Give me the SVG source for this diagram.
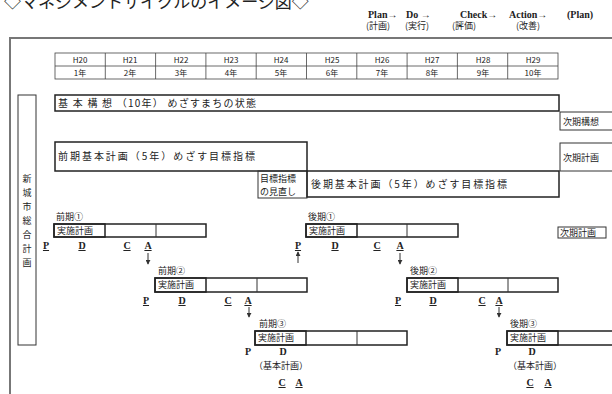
<svg xmlns="http://www.w3.org/2000/svg" width="612" height="394" viewBox="0 0 612 394">
<defs>
<style>
.jp{font-family:"Noto Sans CJK JP","Noto Sans",sans-serif;fill:#222;}
.s8{font-size:8px;} .s9{font-size:9px;} .s10{font-size:10px;}
.bar{fill:none;stroke:#222;stroke-width:1.5;}
.cell{fill:none;stroke:#333;stroke-width:1;}
.thin{stroke:#444;stroke-width:0.8;fill:none;}
.pdca{font-family:"Liberation Serif",serif;font-weight:bold;font-size:10px;fill:#222;text-decoration:underline;text-anchor:middle;}
.leg{font-family:"Liberation Serif",serif;font-weight:bold;font-size:10px;fill:#222;}
.mid{text-anchor:middle;}
.conn{stroke:#333;stroke-width:1;fill:none;}
</style>
<marker id="ah" viewBox="0 0 6 6" refX="5" refY="3" markerWidth="5" markerHeight="5" orient="auto">
<path d="M0,0 L6,3 L0,6 z" fill="#333"/>
</marker>
</defs>
<rect width="612" height="394" fill="#fff"/>

<g id="title"><text class="jp" x="4" y="8" font-size="17">◇マネジメントサイクルのイメージ図◇</text></g>

<g id="legend">
<text class="leg" x="368" y="18">Plan→</text>
<text class="leg" x="406" y="18">Do →</text>
<text class="leg" x="460" y="18">Check→</text>
<text class="leg" x="509" y="18">Action→</text>
<text class="leg" x="567" y="18">(Plan)</text>
<text class="jp s9" x="366" y="29">(計画)</text>
<text class="jp s9" x="405" y="29">(実行)</text>
<text class="jp s9" x="452" y="29">(評価)</text>
<text class="jp s9" x="516" y="29">(改善)</text>
</g>

<g id="frame">
<path d="M10,394 V38 H612" fill="none" stroke="#777" stroke-width="2"/>
</g>

<g id="years">
<rect class="thin" x="55" y="53" width="503" height="26"/>
<line class="thin" x1="55" y1="66" x2="558" y2="66"/>
<path class="thin" d="M105.3,53V79M155.6,53V79M205.9,53V79M256.2,53V79M306.5,53V79M356.8,53V79M407.1,53V79M457.4,53V79M507.7,53V79"/>
<g class="jp s8 mid">
<text x="80" y="63">H20</text><text x="130" y="63">H21</text><text x="181" y="63">H22</text><text x="231" y="63">H23</text><text x="281" y="63">H24</text>
<text x="332" y="63">H25</text><text x="382" y="63">H26</text><text x="432" y="63">H27</text><text x="483" y="63">H28</text><text x="533" y="63">H29</text>
<text x="80" y="76">1年</text><text x="130" y="76">2年</text><text x="181" y="76">3年</text><text x="231" y="76">4年</text><text x="281" y="76">5年</text>
<text x="332" y="76">6年</text><text x="382" y="76">7年</text><text x="432" y="76">8年</text><text x="483" y="76">9年</text><text x="533" y="76">10年</text>
</g>
</g>

<g id="sogo-keikaku">
<rect class="cell" x="18" y="95" width="18" height="250"/>
<text class="jp s9 mid"><tspan x="27" y="182">新</tspan><tspan x="27" y="196">城</tspan><tspan x="27" y="210">市</tspan><tspan x="27" y="224">総</tspan><tspan x="27" y="238">合</tspan><tspan x="27" y="252">計</tspan><tspan x="27" y="266">画</tspan></text>
</g>

<g id="kihon-koso">
<rect class="bar" x="55" y="95" width="504" height="16"/>
<text class="jp s10" x="58" y="107" textLength="198" lengthAdjust="spacing">基 本 構 想 （10年） めざすまちの状態</text>
</g>

<g id="jiki-koso">
<rect class="cell" x="560" y="112" width="60" height="18"/>
<text class="jp s9" x="563" y="125">次期構想</text>
</g>

<g id="zenki-kihon">
<rect class="bar" x="55" y="142" width="252" height="29"/>
<text class="jp s10" x="58" y="160" textLength="197" lengthAdjust="spacing">前期基本計画（5年）めざす目標指標</text>
</g>

<g id="jiki-keikaku-1">
<rect class="cell" x="560" y="143" width="60" height="28"/>
<text class="jp s9" x="563" y="161">次期計画</text>
</g>

<g id="minaoshi">
<rect class="cell" x="258" y="171" width="49" height="27"/>
<text class="jp s9" x="260" y="182">目標指標</text>
<text class="jp s9" x="260" y="195">の見直し</text>
</g>

<g id="koki-kihon">
<rect class="bar" x="307" y="171" width="252" height="26"/>
<text class="jp s10" x="311" y="188" textLength="196" lengthAdjust="spacing">後期基本計画（5年）めざす目標指標</text>
</g>

<g id="zenki-1">
<text class="jp s9" x="56" y="220">前期①</text>
<rect class="bar" x="54" y="224" width="152" height="13"/>
<rect class="bar" x="54" y="224" width="51" height="13"/>
<line class="cell" x1="156" y1="224" x2="156" y2="237"/>
<text class="jp s9" x="57" y="234">実施計画</text>
<text class="pdca" x="46" y="249">P</text><text class="pdca" x="82" y="249">D</text><text class="pdca" x="127" y="249">C</text><text class="pdca" x="148" y="249">A</text>
</g>

<g id="koki-1">
<text class="jp s9" x="308" y="220">後期①</text>
<rect class="bar" x="306" y="224" width="152" height="13"/>
<rect class="bar" x="306" y="224" width="51" height="13"/>
<line class="cell" x1="407" y1="224" x2="407" y2="237"/>
<text class="jp s9" x="309" y="234">実施計画</text>
<text class="pdca" x="298" y="249">P</text><text class="pdca" x="335" y="249">D</text><text class="pdca" x="377" y="249">C</text><text class="pdca" x="400" y="249">A</text>
</g>

<g id="jiki-keikaku-2">
<rect class="cell" x="558" y="227" width="48" height="11"/>
<text class="jp s9" x="560" y="236">次期計画</text>
</g>

<g id="zenki-2">
<text class="jp s9" x="158" y="274">前期②</text>
<rect class="bar" x="155" y="278" width="152" height="14"/>
<rect class="bar" x="155" y="278" width="51" height="14"/>
<line class="cell" x1="257" y1="278" x2="257" y2="292"/>
<text class="jp s9" x="158" y="288">実施計画</text>
<text class="pdca" x="146" y="304">P</text><text class="pdca" x="182" y="304">D</text><text class="pdca" x="228" y="304">C</text><text class="pdca" x="248" y="304">A</text>
</g>

<g id="koki-2">
<text class="jp s9" x="410" y="274">後期②</text>
<rect class="bar" x="407" y="278" width="151" height="14"/>
<rect class="bar" x="407" y="278" width="51" height="14"/>
<line class="cell" x1="508" y1="278" x2="508" y2="292"/>
<text class="jp s9" x="410" y="288">実施計画</text>
<text class="pdca" x="398" y="304">P</text><text class="pdca" x="433" y="304">D</text><text class="pdca" x="482" y="304">C</text><text class="pdca" x="499" y="304">A</text>
</g>

<g id="zenki-3">
<text class="jp s9" x="259" y="327">前期③</text>
<rect class="bar" x="255" y="331" width="152" height="14"/>
<rect class="bar" x="255" y="331" width="51" height="14"/>
<line class="cell" x1="357" y1="331" x2="357" y2="345"/>
<text class="jp s9" x="258" y="341">実施計画</text>
<text class="pdca" x="248" y="355" style="text-decoration:none">P</text><text class="pdca" x="283" y="355" style="text-decoration:none">D</text>
<text class="jp s9 mid" x="281" y="369">（基本計画）</text>
<text class="pdca" x="282" y="386">C</text><text class="pdca" x="299" y="386">A</text>
</g>

<g id="koki-3">
<text class="jp s9" x="510" y="327">後期③</text>
<rect class="bar" x="507" y="331" width="120" height="14"/>
<rect class="bar" x="507" y="331" width="51" height="14"/>
<text class="jp s9" x="510" y="341">実施計画</text>
<text class="pdca" x="498" y="355" style="text-decoration:none">P</text><text class="pdca" x="532" y="355" style="text-decoration:none">D</text>
<text class="jp s9 mid" x="535" y="369">（基本計画）</text>
<text class="pdca" x="530" y="386">C</text><text class="pdca" x="548" y="386">A</text>
</g>

<g id="connectors">
<line class="conn" x1="148" y1="253" x2="148" y2="264" marker-end="url(#ah)"/>
<line class="conn" x1="400" y1="253" x2="400" y2="264" marker-end="url(#ah)"/>
<line class="conn" x1="298" y1="263" x2="298" y2="252" marker-end="url(#ah)"/>
<line class="conn" x1="249" y1="307" x2="249" y2="317" marker-end="url(#ah)"/>
<line class="conn" x1="499" y1="307" x2="499" y2="317" marker-end="url(#ah)"/>
</g>
</svg>
